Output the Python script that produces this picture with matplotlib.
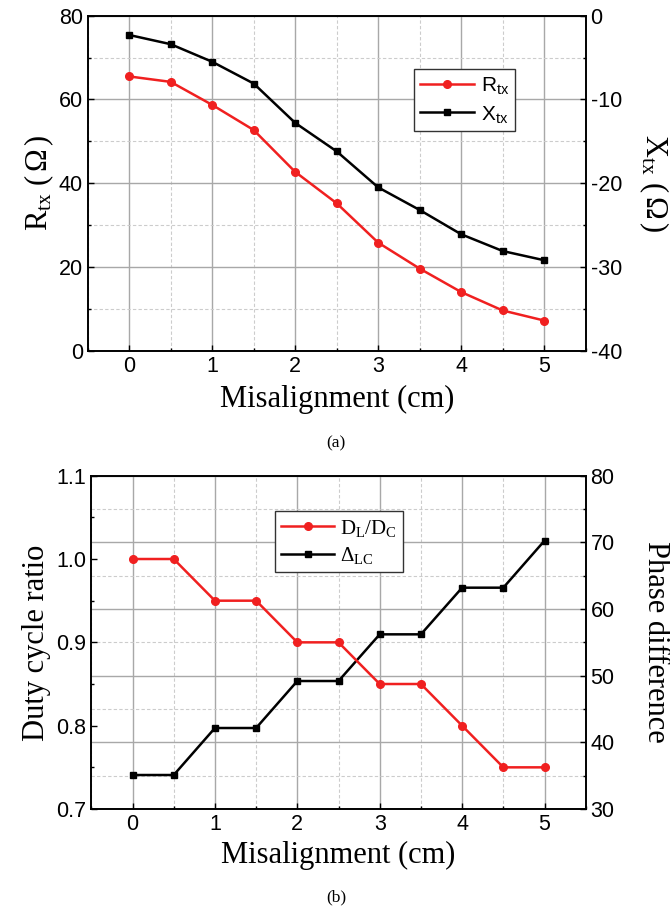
import matplotlib
matplotlib.use('Agg')
import matplotlib.pyplot as plt
from matplotlib.ticker import MultipleLocator, FormatStrFormatter

plt.rcParams['font.family'] = ['Liberation Sans', 'DejaVu Sans']
plt.rcParams['axes.unicode_minus'] = False
plt.rcParams['mathtext.fontset'] = 'custom'
plt.rcParams['mathtext.rm'] = 'Liberation Serif'
plt.rcParams['mathtext.it'] = 'Liberation Serif:italic'
plt.rcParams['mathtext.sf'] = 'Liberation Sans'

misalignment = [0, 0.5, 1, 1.5, 2, 2.5, 3, 3.5, 4, 4.5, 5]
r_tx = [65.5, 64.2, 58.7, 52.7, 42.7, 35.2, 25.8, 19.6, 14.0, 9.6, 7.2]
x_tx = [-2.3, -3.4, -5.5, -8.1, -12.8, -16.2, -20.5, -23.2, -26.1, -28.1, -29.2]
duty_ratio = [1.0, 1.0, 0.95, 0.95, 0.9, 0.9, 0.85, 0.85, 0.8, 0.75, 0.75]
phase_diff = [35.1, 35.1, 42.15, 42.15, 49.2, 49.2, 56.2, 56.2, 63.2, 63.2, 70.25]

RED = '#f02020'
SERIF = 'Liberation Serif'
TICK_FS = 15.5
LABEL_FS = 22


def style_grid(ax):
    ax.grid(True, which='major', color='#a8a8a8', lw=1.0, ls='-')
    ax.grid(True, which='minor', color='#cccccc', lw=0.8, ls=(0, (3, 2)))


def style_ticks(ax):
    ax.tick_params(which='both', direction='in', labelsize=TICK_FS, width=1)
    ax.tick_params(which='major', length=4)
    ax.tick_params(which='minor', length=2)
    for s in ax.spines.values():
        s.set_linewidth(1.2)


fig = plt.figure(figsize=(6.7, 9.09), dpi=100)

# ---- (a) ----
ax1 = fig.add_axes([0.1309, 0.6142, 0.7433, 0.3685])
ax1r = ax1.twinx()
ax1.set_xlim(-0.5, 5.5)
ax1.set_ylim(0, 80)
ax1.xaxis.set_major_locator(MultipleLocator(1))
ax1.xaxis.set_minor_locator(MultipleLocator(0.5))
ax1.yaxis.set_major_locator(MultipleLocator(20))
ax1.yaxis.set_minor_locator(MultipleLocator(10))
style_grid(ax1)
ax1.set_axisbelow(True)
l1, = ax1.plot(misalignment, r_tx, color=RED, lw=1.8, marker='o', ms=5.5,
               label=r'R$_{\mathsf{tx}}$')
ax1.set_xlabel('Misalignment (cm)', family=SERIF, fontsize=LABEL_FS, labelpad=6)
ax1.set_ylabel(r'R$_{\mathrm{tx}}$ ($\,$Ω$\,$)', family=SERIF, fontsize=LABEL_FS, labelpad=2)
style_ticks(ax1)

ax1r.set_ylim(-40, 0)
ax1r.yaxis.set_major_locator(MultipleLocator(10))
ax1r.yaxis.set_minor_locator(MultipleLocator(5))
l2, = ax1r.plot(misalignment, x_tx, color='black', lw=1.8, marker='s', ms=5,
                label=r'X$_{\mathsf{tx}}$')
ax1r.set_ylabel(r'X$_{\mathrm{tx}}$ ($\,$Ω$\,$)', family=SERIF, fontsize=LABEL_FS,
                rotation=270, labelpad=35)
style_ticks(ax1r)
ax1r.legend(handles=[l1, l2], loc='upper left', bbox_to_anchor=(0.655, 0.841),
            fancybox=False, edgecolor='#333333', framealpha=1,
            prop={'family': 'Liberation Sans', 'size': 15},
            handlelength=2.6, handletextpad=0.3, borderpad=0.3, labelspacing=0.35,
            borderaxespad=0)

fig.text(0.5015, 0.5127, '(a)', family=SERIF, fontsize=12.5, ha='center', va='center')

# ---- (b) ----
# right axis is the primary one so that its grid sits under both lines
axb = fig.add_axes([0.1363, 0.110, 0.7379, 0.3667])
axl = axb.twinx()
axb.yaxis.tick_right()
axb.yaxis.set_label_position('right')
axl.yaxis.tick_left()
axl.yaxis.set_label_position('left')

axb.set_xlim(-0.5, 5.5)
axb.set_ylim(30, 80)
axb.xaxis.set_major_locator(MultipleLocator(1))
axb.xaxis.set_minor_locator(MultipleLocator(0.5))
axb.yaxis.set_major_locator(MultipleLocator(10))
axb.yaxis.set_minor_locator(MultipleLocator(5))
style_grid(axb)
axb.set_axisbelow(True)
l4, = axb.plot(misalignment, phase_diff, color='black', lw=1.8, marker='s', ms=5,
               label=r'Δ$_{\mathrm{LC}}$')
axb.set_ylabel('Phase difference', family=SERIF, fontsize=LABEL_FS,
               rotation=270, labelpad=40)
axb.set_xlabel('Misalignment (cm)', family=SERIF, fontsize=LABEL_FS, labelpad=4)
style_ticks(axb)

axl.set_ylim(0.7, 1.1)
axl.yaxis.set_major_locator(MultipleLocator(0.1))
axl.yaxis.set_minor_locator(MultipleLocator(0.05))
axl.yaxis.set_major_formatter(FormatStrFormatter('%.1f'))
l3, = axl.plot(misalignment, duty_ratio, color=RED, lw=1.8, marker='o', ms=5.5,
               label=r'D$_{\mathrm{L}}$/D$_{\mathrm{C}}$')
axl.set_ylabel('Duty cycle ratio', family=SERIF, fontsize=LABEL_FS, labelpad=4)
style_ticks(axl)
axl.legend(handles=[l3, l4], loc='upper left', bbox_to_anchor=(0.372, 0.893),
           fancybox=False, edgecolor='#333333', framealpha=1,
           prop={'family': SERIF, 'size': 15},
           handlelength=2.5, handletextpad=0.3, borderpad=0.3, labelspacing=0.3,
           borderaxespad=0)

fig.text(0.5015, 0.0132, '(b)', family=SERIF, fontsize=12.5, ha='center', va='center')

fig.savefig('out.png', dpi=100)
